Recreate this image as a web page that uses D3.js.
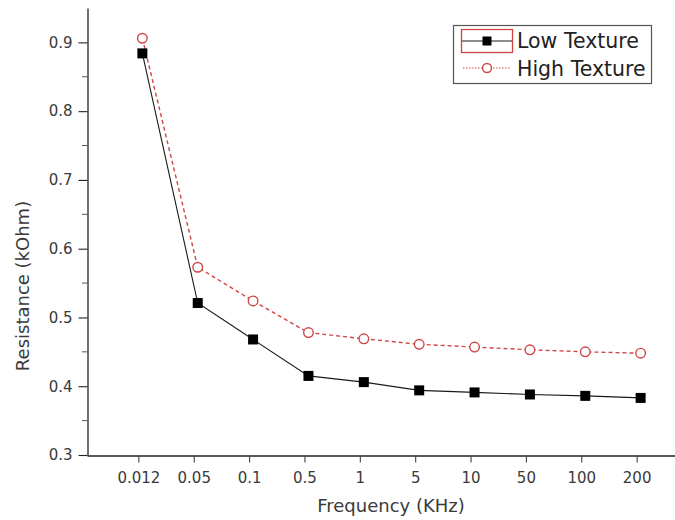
<!DOCTYPE html>
<html>
<head>
<meta charset="utf-8">
<script src="https://cdn.jsdelivr.net/npm/d3@7"></script>
<style>
  html, body { margin: 0; padding: 0; background: #fff; }
  svg { display: block; }
  text { font-family: "DejaVu Sans", sans-serif; }
</style>
</head>
<body>
<svg id="chart" width="675" height="520"></svg>
<script>
// Frequency categories (KHz) and measured resistance (kOhm)
const frequencies = ["0.012", "0.05", "0.1", "0.5", "1", "5", "10", "50", "100", "200"];
const lowTexture  = [0.884, 0.521, 0.468, 0.415, 0.406, 0.394, 0.391, 0.388, 0.386, 0.383];
const highTexture = [0.906, 0.573, 0.524, 0.478, 0.469, 0.461, 0.457, 0.453, 0.450, 0.448];
const yMajorTicks = [0.3, 0.4, 0.5, 0.6, 0.7, 0.8, 0.9];
const yMinorTicks = [0.35, 0.45, 0.55, 0.65, 0.75, 0.85];
const seriesNames = ["Low Texture", "High Texture"];

const svg = d3.select("#chart");
const red = "#cf4646";
const axisColor = "#222";
const labelColor = "#3a3a3a";

const x = d3.scalePoint().domain(frequencies).range([87, 696]).padding(1);
const y = d3.scaleLinear().domain([0.3, 0.95]).range([455, 8]);

// ---- Y axis: major ticks with labels, minor ticks without
const yAxis = svg.append("g").attr("transform", "translate(87.5,0)")
  .call(d3.axisLeft(y).tickValues(yMajorTicks).tickSize(9).tickSizeOuter(0).tickFormat(d3.format(".1f")));
yAxis.select(".domain").attr("stroke", axisColor).attr("stroke-width", 1.3);
yAxis.selectAll(".tick line").attr("stroke", axisColor).attr("stroke-width", 1.1);
yAxis.selectAll(".tick text")
  .attr("x", -15).attr("fill", labelColor)
  .style("font-family", "DejaVu Sans, sans-serif").style("font-size", "15px");
svg.append("g").attr("transform", "translate(87.5,0)")
  .selectAll("line").data(yMinorTicks).join("line")
  .attr("x1", -5.5).attr("x2", 0)
  .attr("y1", d => y(d)).attr("y2", d => y(d))
  .attr("stroke", "#555").attr("stroke-width", 1);

// ---- X axis (categorical)
const xAxis = svg.append("g").attr("transform", "translate(0,455.5)")
  .call(d3.axisBottom(x).tickSize(7).tickSizeOuter(0));
xAxis.select(".domain").attr("stroke", axisColor).attr("stroke-width", 1.3);
xAxis.selectAll(".tick").attr("transform", d => `translate(${x(d) - 3.5},0)`);
xAxis.selectAll(".tick line").attr("stroke", "#444").attr("stroke-width", 1.1);
xAxis.selectAll(".tick text")
  .attr("y", 17).attr("fill", labelColor)
  .style("font-family", "DejaVu Sans, sans-serif").style("font-size", "15px");

// ---- Axis titles
svg.append("text")
  .attr("x", 391).attr("y", 512)
  .attr("text-anchor", "middle").attr("fill", labelColor)
  .style("font-size", "18px")
  .text("Frequency (KHz)");
svg.append("text")
  .attr("transform", "translate(29,286) rotate(-90)")
  .attr("text-anchor", "middle").attr("fill", labelColor)
  .style("font-size", "18px")
  .text("Resistance (kOhm)");

// ---- Series lines
const line = d3.line().x((d, i) => x(frequencies[i])).y(d => y(d));

svg.append("path").datum(highTexture)
  .attr("d", line).attr("fill", "none")
  .attr("stroke", red).attr("stroke-width", 1.4)
  .attr("stroke-dasharray", "4,3");

svg.append("path").datum(lowTexture)
  .attr("d", line).attr("fill", "none")
  .attr("stroke", "#1a1a1a").attr("stroke-width", 1.1);

// ---- Markers
svg.append("g").selectAll("circle").data(highTexture).join("circle")
  .attr("cx", (d, i) => x(frequencies[i])).attr("cy", d => y(d))
  .attr("r", 4.8).attr("fill", "#fff")
  .attr("stroke", red).attr("stroke-width", 1.4);

svg.append("g").selectAll("rect").data(lowTexture).join("rect")
  .attr("x", (d, i) => x(frequencies[i]) - 5).attr("y", d => y(d) - 5)
  .attr("width", 10).attr("height", 10)
  .attr("fill", "#000");

// ---- Legend
const legend = svg.append("g");
legend.append("rect")
  .attr("x", 453.5).attr("y", 25.5).attr("width", 198).attr("height", 58)
  .attr("fill", "#fff").attr("stroke", "#555").attr("stroke-width", 1.2);

// Low Texture entry
legend.append("rect")
  .attr("x", 461.5).attr("y", 29.5).attr("width", 51).attr("height", 23)
  .attr("fill", "none").attr("stroke", red).attr("stroke-width", 1.3);
legend.append("line")
  .attr("x1", 462).attr("x2", 512).attr("y1", 41).attr("y2", 41)
  .attr("stroke", "#1a1a1a").attr("stroke-width", 1.1);
legend.append("rect")
  .attr("x", 482.5).attr("y", 36.5).attr("width", 9).attr("height", 9)
  .attr("fill", "#000");
legend.append("text")
  .attr("x", 517).attr("y", 47.5).attr("fill", "#222")
  .style("font-size", "20.5px").text(seriesNames[0]);

// High Texture entry
legend.append("line")
  .attr("x1", 463).attr("x2", 511).attr("y1", 68).attr("y2", 68)
  .attr("stroke", red).attr("stroke-width", 1.1)
  .attr("stroke-dasharray", "1.5,1.5");
legend.append("circle")
  .attr("cx", 487).attr("cy", 68).attr("r", 4.5)
  .attr("fill", "#fff").attr("stroke", red).attr("stroke-width", 1.4);
legend.append("text")
  .attr("x", 517).attr("y", 75.5).attr("fill", "#222")
  .style("font-size", "20.5px").text(seriesNames[1]);
</script>
</body>
</html>
